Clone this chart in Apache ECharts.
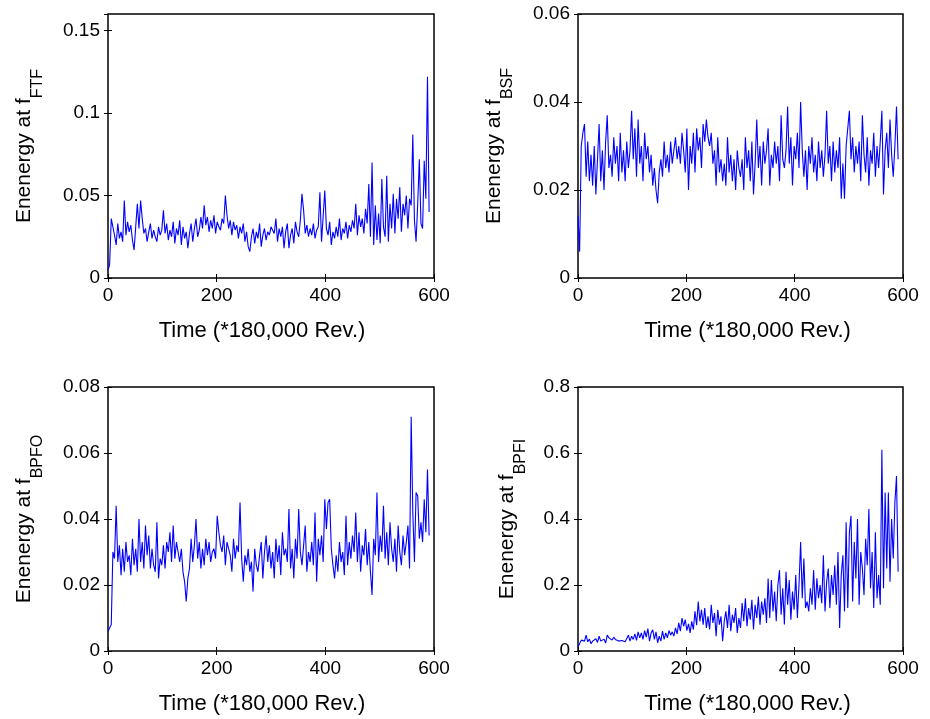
<!DOCTYPE html>
<html>
<head>
<meta charset="utf-8">
<script src="https://cdn.jsdelivr.net/npm/echarts@6/dist/echarts.min.js"></script>
<style>
html,body{margin:0;padding:0;background:#fff;}
#chart{width:930px;height:719px;}
</style>
</head>
<body>
<div id="chart"></div>
<script>
// Time step between samples (units of 180,000 revolutions)
const TIME_STEP = 3;
const xTicks = [0, 200, 400, 600];

const energyFTF = [
0.005,0.008,0.036,0.035,0.026,0.020,0.033,0.024,0.028,0.022,
0.047,0.026,0.034,0.028,0.032,0.023,0.017,0.031,0.045,0.030,
0.047,0.036,0.027,0.030,0.022,0.028,0.033,0.024,0.029,0.025,
0.022,0.031,0.026,0.029,0.041,0.027,0.033,0.023,0.029,0.025,
0.034,0.021,0.030,0.026,0.035,0.020,0.031,0.024,0.028,0.018,
0.027,0.033,0.022,0.030,0.036,0.025,0.029,0.037,0.030,0.044,
0.032,0.037,0.028,0.035,0.030,0.038,0.027,0.034,0.031,0.029,
0.036,0.033,0.050,0.038,0.030,0.035,0.026,0.034,0.029,0.032,
0.024,0.031,0.027,0.033,0.022,0.028,0.019,0.016,0.025,0.030,
0.021,0.028,0.024,0.033,0.019,0.026,0.030,0.023,0.028,0.026,
0.031,0.029,0.027,0.036,0.022,0.030,0.025,0.031,0.018,0.028,
0.033,0.018,0.026,0.030,0.021,0.034,0.028,0.025,0.035,0.051,
0.041,0.027,0.032,0.025,0.030,0.026,0.033,0.024,0.029,0.031,
0.052,0.022,0.021,0.053,0.030,0.026,0.034,0.020,0.028,0.024,
0.031,0.025,0.036,0.023,0.030,0.027,0.034,0.024,0.032,0.028,
0.035,0.030,0.045,0.026,0.038,0.031,0.036,0.027,0.042,0.033,
0.057,0.025,0.070,0.020,0.044,0.023,0.039,0.021,0.060,0.031,
0.025,0.062,0.022,0.045,0.030,0.051,0.027,0.048,0.036,0.055,
0.028,0.045,0.038,0.050,0.030,0.048,0.044,0.087,0.035,0.022,
0.045,0.072,0.033,0.030,0.071,0.048,0.122,0.040
];

const energyBSF = [
0.014,0.006,0.030,0.033,0.035,0.023,0.031,0.022,0.028,0.021,
0.030,0.019,0.027,0.035,0.022,0.029,0.020,0.031,0.037,0.025,
0.028,0.023,0.032,0.026,0.030,0.022,0.033,0.024,0.029,0.022,
0.031,0.025,0.029,0.038,0.027,0.034,0.023,0.036,0.026,0.030,
0.022,0.033,0.027,0.030,0.024,0.028,0.021,0.025,0.020,0.017,
0.024,0.027,0.023,0.031,0.025,0.028,0.024,0.031,0.026,0.029,
0.032,0.027,0.030,0.026,0.033,0.029,0.024,0.034,0.020,0.030,
0.026,0.033,0.024,0.034,0.029,0.032,0.025,0.035,0.031,0.036,
0.032,0.030,0.033,0.026,0.029,0.021,0.032,0.024,0.027,0.022,
0.026,0.021,0.032,0.024,0.028,0.022,0.027,0.020,0.029,0.025,
0.023,0.027,0.020,0.032,0.025,0.029,0.022,0.031,0.019,0.026,
0.036,0.025,0.030,0.021,0.031,0.026,0.029,0.034,0.021,0.028,
0.025,0.031,0.026,0.030,0.022,0.037,0.027,0.025,0.029,0.039,
0.026,0.032,0.021,0.030,0.027,0.033,0.025,0.040,0.029,0.023,
0.029,0.020,0.030,0.026,0.032,0.024,0.028,0.022,0.031,0.025,
0.029,0.023,0.028,0.038,0.026,0.030,0.022,0.031,0.024,0.029,
0.025,0.032,0.018,0.026,0.018,0.030,0.034,0.038,0.027,0.032,
0.024,0.030,0.026,0.031,0.022,0.037,0.028,0.024,0.032,0.021,
0.029,0.026,0.033,0.023,0.030,0.025,0.031,0.038,0.019,0.029,
0.033,0.025,0.036,0.028,0.023,0.030,0.039,0.027
];

const energyBPFO = [
0.006,0.007,0.008,0.030,0.028,0.044,0.027,0.032,0.023,0.031,
0.024,0.033,0.027,0.029,0.023,0.034,0.026,0.031,0.024,0.040,
0.027,0.033,0.025,0.038,0.029,0.035,0.025,0.031,0.026,0.024,
0.039,0.022,0.028,0.026,0.032,0.025,0.033,0.030,0.036,0.027,
0.038,0.028,0.033,0.030,0.027,0.031,0.024,0.021,0.015,0.022,
0.025,0.034,0.027,0.032,0.040,0.028,0.033,0.025,0.031,0.026,
0.034,0.029,0.033,0.027,0.030,0.031,0.028,0.041,0.036,0.032,
0.030,0.035,0.026,0.033,0.031,0.029,0.024,0.034,0.028,0.032,
0.030,0.045,0.028,0.021,0.029,0.026,0.031,0.024,0.027,0.018,
0.031,0.026,0.024,0.029,0.033,0.022,0.030,0.035,0.027,0.032,
0.025,0.030,0.022,0.034,0.027,0.032,0.023,0.036,0.029,0.031,
0.027,0.043,0.025,0.031,0.022,0.034,0.028,0.043,0.030,0.026,
0.032,0.038,0.024,0.030,0.027,0.033,0.026,0.042,0.021,0.034,
0.029,0.035,0.027,0.046,0.037,0.045,0.046,0.031,0.026,0.022,
0.029,0.024,0.033,0.027,0.030,0.023,0.041,0.026,0.033,0.028,
0.035,0.030,0.042,0.027,0.036,0.024,0.032,0.029,0.037,0.026,
0.033,0.024,0.017,0.034,0.029,0.048,0.027,0.035,0.030,0.044,
0.028,0.036,0.026,0.039,0.031,0.027,0.034,0.024,0.038,0.030,
0.026,0.035,0.029,0.033,0.038,0.025,0.071,0.042,0.027,0.048,
0.047,0.034,0.039,0.033,0.046,0.036,0.055,0.035
];

const energyBPFI = [
0.012,0.013,0.033,0.035,0.030,0.048,0.028,0.036,0.022,0.030,
0.025,0.037,0.026,0.045,0.030,0.027,0.036,0.024,0.048,0.040,
0.045,0.033,0.042,0.035,0.040,0.030,0.036,0.032,0.035,0.028,
0.033,0.048,0.030,0.045,0.035,0.052,0.032,0.058,0.040,0.055,
0.035,0.062,0.042,0.068,0.030,0.055,0.064,0.035,0.058,0.025,
0.045,0.030,0.060,0.035,0.055,0.040,0.062,0.048,0.058,0.045,
0.070,0.052,0.085,0.060,0.100,0.075,0.095,0.062,0.082,0.055,
0.090,0.065,0.120,0.078,0.150,0.090,0.125,0.080,0.130,0.070,
0.105,0.065,0.140,0.085,0.115,0.045,0.125,0.080,0.105,0.030,
0.090,0.120,0.070,0.140,0.060,0.110,0.085,0.130,0.055,0.100,
0.070,0.145,0.090,0.160,0.075,0.130,0.095,0.155,0.065,0.140,
0.100,0.165,0.080,0.150,0.110,0.160,0.085,0.220,0.100,0.215,
0.120,0.180,0.090,0.200,0.245,0.110,0.190,0.080,0.240,0.140,
0.215,0.095,0.180,0.125,0.230,0.100,0.200,0.330,0.160,0.280,
0.130,0.150,0.120,0.190,0.140,0.245,0.125,0.220,0.160,0.200,
0.145,0.290,0.120,0.210,0.250,0.130,0.230,0.170,0.260,0.140,
0.300,0.070,0.230,0.290,0.120,0.390,0.130,0.360,0.410,0.150,
0.330,0.220,0.400,0.140,0.300,0.250,0.170,0.340,0.260,0.430,
0.190,0.300,0.130,0.360,0.160,0.230,0.140,0.610,0.190,0.480,
0.250,0.480,0.210,0.400,0.280,0.450,0.530,0.240
];

const panels = [
  { sub: 'FTF',  values: energyFTF,  yMax: 0.16, yStep: 0.05, grid: {left:108, top:14,  width:326, height:264}, gap: 73, tshift: [0,18,0,0] },
  { sub: 'BSF',  values: energyBSF,  yMax: 0.06, yStep: 0.02, grid: {left:578, top:14,  width:325, height:264}, gap: 73, tshift: [0,0,0,14] },
  { sub: 'BPFO', values: energyBPFO, yMax: 0.08, yStep: 0.02, grid: {left:108, top:387, width:326, height:264}, gap: 73, tshift: [0,18,0,0] },
  { sub: 'BPFI', values: energyBPFI, yMax: 0.8,  yStep: 0.2,  grid: {left:578, top:387, width:325, height:264}, gap: 60, tshift: [0,0,0,14] }
];

const FONT = 'Liberation Sans, Arial, Helvetica, sans-serif';
const grids = [], xAxes = [], yAxes = [], series = [];
panels.forEach((p, i) => {
  grids.push(Object.assign({ show: true, borderColor: '#000', borderWidth: 1.5, backgroundColor: '#fff' }, p.grid));
  const tick = { show: true, inside: true, length: 4, lineStyle: { color: '#000', width: 1 } };
  xAxes.push({
    type: 'value', gridIndex: i, min: 0, max: 600, interval: 200, position: 'bottom',
    axisLine: { show: false }, axisTick: tick, splitLine: { show: false },
    axisLabel: { color: '#000', fontSize: 19, fontFamily: FONT, margin: 8 },
    name: 'Time (*180,000 Rev.)', nameLocation: 'middle', nameGap: 42,
    nameTextStyle: { color: '#000', fontSize: 22, fontFamily: FONT, padding: p.tshift }
  });
  xAxes.push({
    type: 'value', gridIndex: i, min: 0, max: 600, interval: 200, position: 'top',
    axisLine: { show: false }, axisTick: tick, splitLine: { show: false }, axisLabel: { show: false }
  });
  yAxes.push({
    type: 'value', gridIndex: i, min: 0, max: p.yMax, interval: p.yStep, position: 'left',
    axisLine: { show: false }, axisTick: tick, splitLine: { show: false },
    axisLabel: { color: '#000', fontSize: 19, fontFamily: FONT, margin: 8, showMaxLabel: p.yMax === 0.16 ? false : true },
    name: '{a|Enenergy at f}{b|' + p.sub + '}', nameLocation: 'middle', nameRotate: 90, nameGap: p.gap,
    nameTextStyle: {
      rich: {
        a: { fontSize: 21, fontFamily: FONT, color: '#000', lineHeight: 21, verticalAlign: 'top' },
        b: { fontSize: 16, fontFamily: FONT, color: '#000', lineHeight: 16, padding: [16, 0, 0, 0], verticalAlign: 'top' }
      }
    }
  });
  yAxes.push({
    type: 'value', gridIndex: i, min: 0, max: p.yMax, interval: p.yStep, position: 'right',
    axisLine: { show: false }, axisTick: tick, splitLine: { show: false }, axisLabel: { show: false }
  });
  series.push({
    type: 'line', xAxisIndex: 2 * i, yAxisIndex: 2 * i,
    data: p.values.map((v, k) => [k * TIME_STEP, v]),
    showSymbol: false, symbol: 'none', animation: false,
    lineStyle: { color: '#0000ff', width: 1.1 }
  });
});

const chart = echarts.init(document.getElementById('chart'), null, { renderer: 'canvas' });
chart.setOption({
  backgroundColor: '#fff',
  animation: false,
  grid: grids, xAxis: xAxes, yAxis: yAxes, series: series
});
</script>
</body>
</html>
